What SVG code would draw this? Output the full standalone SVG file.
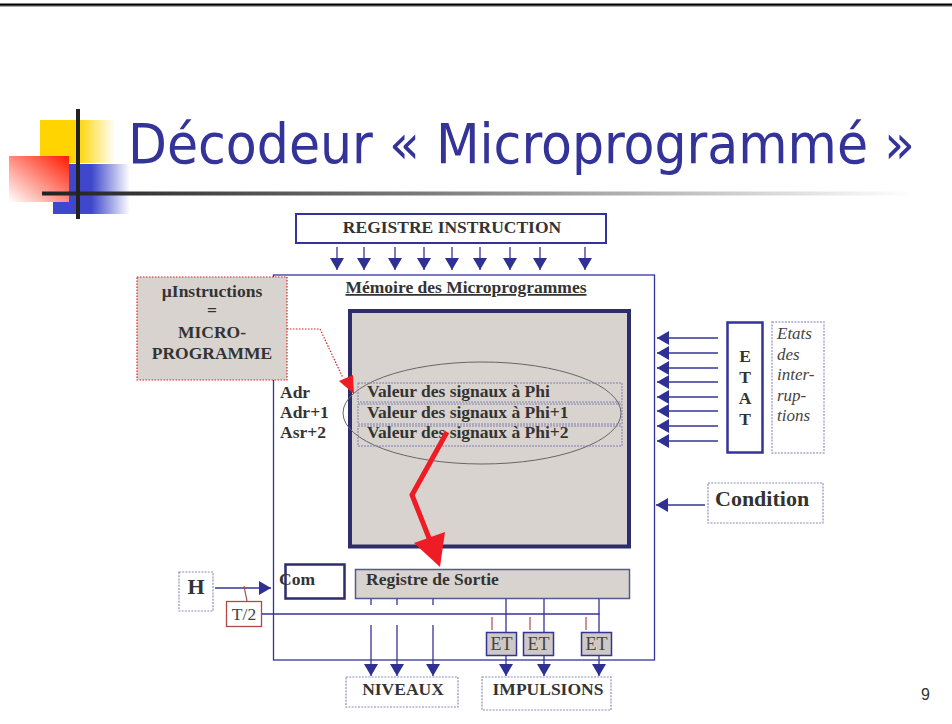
<svg xmlns="http://www.w3.org/2000/svg" width="952" height="724" viewBox="0 0 952 724">
<style>
.t{font-family:'Liberation Serif','Times New Roman',serif;font-weight:bold;font-size:17.5px;fill:#333}
.big{font-size:22px}
.r{font-family:'Liberation Serif','Times New Roman',serif;font-size:17.5px;fill:#444}
.et{font-size:18px}
.it{font-family:'Liberation Serif','Times New Roman',serif;font-style:italic;font-size:17px;fill:#444}
.ln{stroke:#333399;stroke-width:1.3;fill:none}
.dash{fill:#fff;stroke:#8c8cc0;stroke-width:1.2;stroke-dasharray:2 1.2}
.etb{fill:#cfc9c6;stroke:#333399;stroke-width:1.5}
</style>
<defs>
<marker id="arr" viewBox="0 0 12 14" refX="12" refY="7" markerWidth="13" markerHeight="14" markerUnits="userSpaceOnUse" orient="auto"><path d="M0,0 L12,7 L0,14 z" fill="#2e3192"/></marker>
<linearGradient id="gy" x1="0" y1="0" x2="1" y2="0"><stop offset="0" stop-color="#ffd400"/><stop offset="0.5" stop-color="#ffd400"/><stop offset="1" stop-color="#fff"/></linearGradient>
<linearGradient id="gb" x1="0" y1="0" x2="1" y2="0"><stop offset="0" stop-color="#3f48cc"/><stop offset="0.5" stop-color="#3f48cc"/><stop offset="1" stop-color="#fff"/></linearGradient>
<linearGradient id="gr" x1="1" y1="0" x2="0" y2="1"><stop offset="0" stop-color="#ff1a00"/><stop offset="1" stop-color="#fff"/></linearGradient>
<linearGradient id="gl" x1="0" y1="0" x2="1" y2="0"><stop offset="0" stop-color="#222"/><stop offset="0.1" stop-color="#333"/><stop offset="0.5" stop-color="#888"/><stop offset="1" stop-color="#fff"/></linearGradient>
</defs>
<rect width="952" height="724" fill="#fff"/>
<rect x="0" y="3.5" width="952" height="2.3" fill="#000"/>
<rect x="0" y="5.8" width="952" height="0.8" fill="#777"/>

<g id="logo">
<rect x="40" y="120" width="75" height="43" fill="url(#gy)"/>
<rect x="53" y="164" width="77" height="50" fill="url(#gb)"/>
<rect x="9" y="156" width="60" height="46" fill="url(#gr)"/>
<rect x="42" y="191.5" width="870" height="4" fill="url(#gl)"/>
<rect x="76" y="109" width="4" height="110" fill="#222"/>
</g>
<g id="title">
<text x="128" y="163" font-family="'DejaVu Sans Condensed','DejaVu Sans',sans-serif" font-size="55" fill="#333399" textLength="787" lengthAdjust="spacingAndGlyphs">Décodeur « Microprogrammé »</text>
</g>

<g id="memoire">
<rect x="273.5" y="275" width="381" height="385" fill="none" stroke="#333399" stroke-width="1.3"/>
<text class="t" x="466" y="293" text-anchor="middle" text-decoration="underline">Mémoire des Microprogrammes</text>
<rect x="350" y="311" width="279" height="235.5" fill="#d8d3cf" stroke="#2d2d6b" stroke-width="4"/>
</g>

<g id="registre-instruction">
<rect x="296" y="214" width="310" height="29" fill="#fff" stroke="#333399" stroke-width="2"/>
<text class="t" x="452" y="233" text-anchor="middle">REGISTRE INSTRUCTION</text>
</g>

<g id="microinstructions">
<rect x="137" y="277" width="150" height="103" fill="#d8d3cf" stroke="#e02020" stroke-width="1.2" stroke-dasharray="1.5 1.5"/>
<text class="t" x="212" y="297" text-anchor="middle">µInstructions</text>
<text class="t" x="212" y="316" text-anchor="middle">=</text>
<text class="t" x="212" y="338" text-anchor="middle">MICRO-</text>
<text class="t" x="212" y="359" text-anchor="middle">PROGRAMME</text>
</g>

<g id="lignes">
<ellipse cx="482" cy="413" rx="139" ry="51" fill="none" stroke="#666" stroke-width="1"/>
<rect x="358" y="383" width="264" height="19" fill="none" stroke="#8080b0" stroke-width="1" stroke-dasharray="2 1"/>
<rect x="358" y="404" width="264" height="20" fill="none" stroke="#8080b0" stroke-width="1" stroke-dasharray="2 1"/>
<rect x="358" y="426" width="264" height="20" fill="none" stroke="#8080b0" stroke-width="1" stroke-dasharray="2 1"/>
<text class="t" x="367" y="397">Valeur des signaux à Phi</text>
<text class="t" x="367" y="418">Valeur des signaux à Phi+1</text>
<text class="t" x="367" y="438">Valeur des signaux à Phi+2</text>
<text class="t" x="280" y="398">Adr</text>
<text class="t" x="280" y="418">Adr+1</text>
<text class="t" x="280" y="438">Asr+2</text>
</g>

<g id="registre-sortie">
<rect x="355.5" y="569.5" width="274" height="29" fill="#d8d3cf" stroke="#555a8a" stroke-width="1.5"/>
<text class="t" x="366" y="585">Registre de Sortie</text>
</g>
<g id="com">
<rect x="285.5" y="564.5" width="59" height="34" fill="#fff" stroke="#2d2d6b" stroke-width="2.5"/>
<text class="t" x="279" y="585">Com</text>
</g>
<g id="H">
<rect x="179" y="572" width="34" height="39" class="dash"/>
<text class="t big" x="196" y="594" text-anchor="middle">H</text>
</g>
<g id="T2">
<rect x="226.5" y="601.5" width="35" height="25" fill="#fff" stroke="#b04848" stroke-width="1.3"/>
<text class="r" x="244" y="620" text-anchor="middle">T/2</text>
</g>

<g id="etat">
<rect x="727.5" y="322.5" width="35" height="130" fill="#fff" stroke="#333399" stroke-width="2.5"/>
<text class="t" x="745" y="362" text-anchor="middle">E</text>
<text class="t" x="745" y="383" text-anchor="middle">T</text>
<text class="t" x="745" y="404" text-anchor="middle">A</text>
<text class="t" x="745" y="425" text-anchor="middle">T</text>
</g>
<g id="etats-interruptions">
<rect x="772" y="322" width="52" height="131" fill="#fff" stroke="#a8a8d0" stroke-width="1.5" stroke-dasharray="2 1.2"/>
<text class="it" x="777" y="339">Etats</text>
<text class="it" x="777" y="360">des</text>
<text class="it" x="777" y="380">inter-</text>
<text class="it" x="777" y="401">rup-</text>
<text class="it" x="777" y="421">tions</text>
</g>
<g id="condition">
<rect x="708" y="483" width="115" height="40" class="dash"/>
<text class="t big" x="715" y="506">Condition</text>
</g>

<g id="et1"><rect x="486.5" y="632.5" width="30" height="23" class="etb"/><text class="r et" x="501.5" y="650" text-anchor="middle">ET</text></g>
<g id="et2"><rect x="523.5" y="632.5" width="30" height="23" class="etb"/><text class="r et" x="538.5" y="650" text-anchor="middle">ET</text></g>
<g id="et3"><rect x="581.5" y="632.5" width="30" height="23" class="etb"/><text class="r et" x="596.5" y="650" text-anchor="middle">ET</text></g>

<g id="niveaux">
<rect x="346" y="677" width="112" height="30" class="dash"/>
<text class="t" x="403" y="695" text-anchor="middle">NIVEAUX</text>
</g>
<g id="impulsions">
<rect x="482" y="677" width="129" height="33" class="dash"/>
<text class="t" x="548" y="695" text-anchor="middle">IMPULSIONS</text>
</g>

<g id="connectors">
<g class="ln" marker-end="url(#arr)">
<line x1="337" y1="247" x2="337" y2="270"/>
<line x1="364" y1="247" x2="364" y2="270"/>
<line x1="395" y1="247" x2="395" y2="270"/>
<line x1="424" y1="247" x2="424" y2="270"/>
<line x1="452" y1="247" x2="452" y2="270"/>
<line x1="480" y1="247" x2="480" y2="270"/>
<line x1="510" y1="247" x2="510" y2="270"/>
<line x1="540" y1="247" x2="540" y2="270"/>
<line x1="585" y1="247" x2="585" y2="270"/>
<line x1="718" y1="338" x2="657" y2="338"/>
<line x1="718" y1="353" x2="657" y2="353"/>
<line x1="718" y1="368" x2="657" y2="368"/>
<line x1="718" y1="382" x2="657" y2="382"/>
<line x1="718" y1="397" x2="657" y2="397"/>
<line x1="718" y1="411" x2="657" y2="411"/>
<line x1="718" y1="426" x2="657" y2="426"/>
<line x1="718" y1="441" x2="657" y2="441"/>
<line x1="705" y1="505" x2="656" y2="505"/>
<line x1="215" y1="588" x2="271" y2="588"/>
<line x1="371" y1="625" x2="371" y2="676"/>
<line x1="397" y1="625" x2="397" y2="676"/>
<line x1="433" y1="625" x2="433" y2="676"/>
<line x1="506" y1="656" x2="506" y2="676"/>
<line x1="544" y1="656" x2="544" y2="676"/>
<line x1="599" y1="656" x2="599" y2="676"/>
</g>
<g class="ln">
<line x1="371" y1="599" x2="371" y2="605"/>
<line x1="397" y1="599" x2="397" y2="605"/>
<line x1="433" y1="599" x2="433" y2="605"/>
<line x1="506" y1="599" x2="506" y2="632"/>
<line x1="544" y1="599" x2="544" y2="632"/>
<line x1="599" y1="599" x2="599" y2="632"/>
<line x1="262" y1="614" x2="599.5" y2="614"/>
</g>
<g stroke="#b04848" stroke-width="1.2">
<line x1="244" y1="586" x2="247" y2="601"/>
<line x1="492" y1="617" x2="492" y2="630"/>
<line x1="530" y1="617" x2="530" y2="630"/>
<line x1="586" y1="617" x2="586" y2="630"/>
</g>
<path d="M287,329 L320,329 L343,378" fill="none" stroke="#e02020" stroke-width="1.2" stroke-dasharray="1.5 1.5"/>
<polygon points="339,381 353,375 354,394" fill="#ee1c25"/>
<polyline points="447,432 412,495 431,543" fill="none" stroke="#ee1c25" stroke-width="5" stroke-linejoin="miter"/>
<polygon points="414,543 445,532 440,567" fill="#ee1c25"/>
</g>

<text x="921" y="700" font-family="'Liberation Sans',Arial,sans-serif" font-size="16" fill="#333">9</text>
</svg>
